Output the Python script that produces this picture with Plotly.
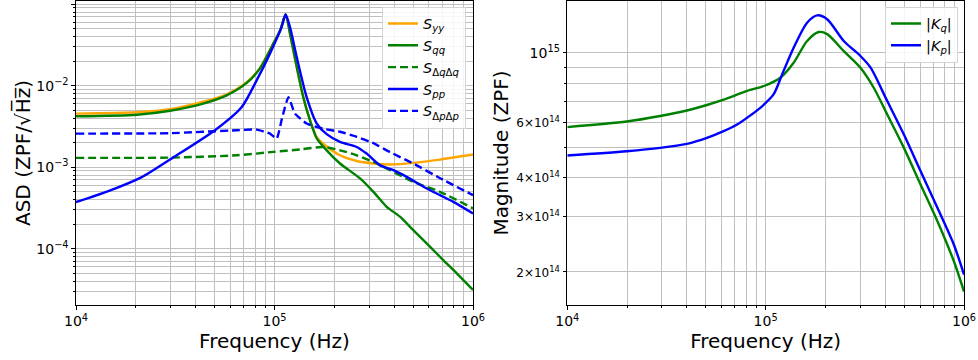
import plotly.graph_objects as go

# ---------------- data ----------------
f_yy = [1.0e4, 2.023e4, 2.979e4, 4.375e4, 5.741e4, 7.244e4, 8.453e4, 9.863e4, 1.067e5, 1.138e5,
        1.197e5, 1.294e5, 1.396e5, 1.510e5, 1.633e5, 1.795e5, 2.138e5, 2.594e5, 3.148e5, 3.819e5,
        5.000e5, 6.823e5, 1.0e6]
S_yy = [4.54e-3, 4.71e-3, 5.13e-3, 6.34e-3, 7.82e-3, 1.10e-2, 1.65e-2, 3.30e-2, 4.75e-2, 7.46e-2,
        4.33e-2, 1.69e-2, 7.24e-3, 3.76e-3, 2.33e-3, 1.86e-3, 1.40e-3, 1.19e-3, 1.11e-3, 1.08e-3,
        1.13e-3, 1.24e-3, 1.43e-3]

f_qq = [1.0e4, 2.023e4, 2.979e4, 4.375e4, 5.741e4, 7.244e4, 8.453e4, 9.863e4, 1.067e5, 1.138e5,
        1.197e5, 1.294e5, 1.396e5, 1.510e5, 1.633e5, 1.832e5, 2.138e5, 2.698e5, 3.148e5, 3.673e5,
        4.285e5, 5.000e5, 6.067e5, 7.079e5, 8.279e5, 1.0e6]
S_qq = [4.21e-3, 4.40e-3, 4.92e-3, 6.03e-3, 7.60e-3, 1.08e-2, 1.63e-2, 3.27e-2, 4.75e-2, 7.46e-2,
        4.33e-2, 1.69e-2, 7.24e-3, 3.76e-3, 2.26e-3, 1.61e-3, 1.11e-3, 7.28e-4, 4.99e-4, 3.27e-4,
        2.47e-4, 1.69e-4, 1.06e-4, 7.27e-5, 5.00e-5, 3.13e-5]

f_dqdq = [1.0e4, 2.979e4, 6.457e4, 9.863e4, 1.343e5, 1.762e5, 2.138e5, 2.594e5, 3.148e5, 3.819e5,
          5.000e5, 6.823e5, 1.0e6]
S_dqdq = [1.30e-3, 1.31e-3, 1.40e-3, 1.54e-3, 1.65e-3, 1.77e-3, 1.61e-3, 1.40e-3, 1.16e-3, 9.18e-4,
          6.61e-4, 4.99e-4, 3.13e-4]

f_pp = [1.0e4, 1.455e4, 2.143e4, 3.034e4, 5.012e4, 6.839e4, 8.128e4, 9.484e4, 1.086e5, 1.138e5,
        1.197e5, 1.294e5, 1.452e5, 1.633e5, 1.832e5, 2.138e5, 2.594e5, 2.911e5, 3.396e5, 3.972e5,
        4.634e5, 5.848e5, 6.823e5, 7.962e5, 1.0e6]
S_pp = [3.73e-4, 5.08e-4, 7.55e-4, 1.28e-3, 2.84e-3, 5.47e-3, 1.16e-2, 2.47e-2, 5.21e-2, 7.46e-2,
        5.21e-2, 2.24e-2, 7.24e-3, 3.43e-3, 2.54e-3, 2.04e-3, 1.77e-3, 1.47e-3, 1.06e-3, 9.18e-4,
        7.60e-4, 5.48e-4, 4.54e-4, 3.76e-4, 2.71e-4]

f_dpdp = [1.0e4, 2.979e4, 6.457e4, 8.128e4, 9.484e4, 1.026e5, 1.091e5, 1.175e5, 1.268e5, 1.452e5,
          1.762e5, 2.138e5, 2.594e5, 3.148e5, 3.819e5, 5.000e5, 6.823e5, 1.0e6]
S_dpdp = [2.58e-3, 2.61e-3, 2.84e-3, 2.89e-3, 2.58e-3, 2.24e-3, 3.98e-3, 7.24e-3, 4.54e-3, 3.43e-3,
          2.96e-3, 2.72e-3, 2.36e-3, 1.97e-3, 1.53e-3, 1.11e-3, 7.33e-4, 4.54e-4]

f_Kq = [1.0e4, 1.995e4, 2.938e4, 4.009e4, 5.058e4, 6.138e4, 8.054e4, 9.954e4, 1.186e5, 1.384e5,
        1.618e5, 1.854e5, 2.042e5, 2.477e5, 3.006e5, 3.508e5, 4.102e5, 4.977e5, 6.039e5, 7.345e5,
        8.892e5, 1.0e6]
K_q = [5.79e14, 6.03e14, 6.28e14, 6.54e14, 6.81e14, 7.08e14, 7.55e14, 7.86e14, 8.32e14, 9.29e14,
       1.090e15, 1.164e15, 1.146e15, 1.012e15, 8.96e14, 7.73e14, 6.35e14, 4.97e14, 3.80e14, 2.90e14,
       2.16e14, 1.73e14]

f_Kp = [1.0e4, 1.995e4, 2.938e4, 4.009e4, 5.058e4, 6.138e4, 7.178e4, 8.054e4, 9.397e4, 1.096e5,
        1.211e5, 1.384e5, 1.618e5, 1.820e5, 2.042e5, 2.477e5, 3.006e5, 3.381e5, 4.102e5, 4.977e5,
        6.039e5, 7.345e5, 8.892e5, 1.0e6]
K_p = [4.70e14, 4.85e14, 4.97e14, 5.12e14, 5.35e14, 5.62e14, 5.90e14, 6.20e14, 6.67e14, 7.36e14,
       8.53e14, 1.037e15, 1.247e15, 1.316e15, 1.279e15, 1.090e15, 9.76e14, 8.96e14, 7.01e14, 5.48e14,
       4.19e14, 3.20e14, 2.44e14, 1.96e14]

x_major = [1e4, 1e5, 1e6]
x_major_text = ["10<sup>4</sup>", "10<sup>5</sup>", "10<sup>6</sup>"]
x_minor = [m * d for d in (1e4, 1e5) for m in range(2, 10)]

yl_major = [1e-4, 1e-3, 1e-2, 1e-1]
yl_major_text = ["10<sup>−4</sup>", "10<sup>−3</sup>", "10<sup>−2</sup>", "10<sup>−1</sup>"]
yl_minor = [m * d for d in (1e-5, 1e-4, 1e-3, 1e-2) for m in range(2, 10)]

yr_ticks = [2e14, 3e14, 4e14, 6e14, 1e15]
yr_ticks_text = ["<span style='font-size:12px'>2×10<sup>14</sup></span>",
                 "<span style='font-size:12px'>3×10<sup>14</sup></span>",
                 "<span style='font-size:12px'>4×10<sup>14</sup></span>",
                 "<span style='font-size:12px'>6×10<sup>14</sup></span>",
                 "10<sup>15</sup>"]
yr_minor = [5e14, 7e14, 8e14, 9e14]

# ---------------- figure ----------------
FONT = "DejaVu Sans"
W = 2.4
DASH = "8px,4px"
SM = 0.7

fig = go.Figure()
common = dict(mode="lines")
fig.add_trace(go.Scatter(x=f_yy, y=S_yy, name="<i>S</i><sub><i>yy</i></sub>",
                         line=dict(color="orange", width=W, shape="spline", smoothing=SM),
                         xaxis="x", yaxis="y", legend="legend", **common))
fig.add_trace(go.Scatter(x=f_qq, y=S_qq, name="<i>S</i><sub><i>qq</i></sub>",
                         line=dict(color="green", width=W, shape="spline", smoothing=SM),
                         xaxis="x", yaxis="y", legend="legend", **common))
fig.add_trace(go.Scatter(x=f_dqdq, y=S_dqdq, name="<i>S</i><sub>Δ<i>q</i>Δ<i>q</i></sub>",
                         line=dict(color="green", width=W, dash=DASH, shape="spline", smoothing=SM),
                         xaxis="x", yaxis="y", legend="legend", **common))
fig.add_trace(go.Scatter(x=f_pp, y=S_pp, name="<i>S</i><sub><i>pp</i></sub>",
                         line=dict(color="blue", width=W, shape="spline", smoothing=SM),
                         xaxis="x", yaxis="y", legend="legend", **common))
fig.add_trace(go.Scatter(x=f_dpdp, y=S_dpdp, name="<i>S</i><sub>Δ<i>p</i>Δ<i>p</i></sub>",
                         line=dict(color="blue", width=W, dash=DASH, shape="spline", smoothing=0.4),
                         xaxis="x", yaxis="y", legend="legend", **common))

fig.add_trace(go.Scatter(x=f_Kq, y=K_q, name="|<i>K</i><sub><i>q</i></sub>|",
                         line=dict(color="green", width=W, shape="spline", smoothing=0.8),
                         xaxis="x2", yaxis="y2", legend="legend2", **common))
fig.add_trace(go.Scatter(x=f_Kp, y=K_p, name="|<i>K</i><sub><i>p</i></sub>|",
                         line=dict(color="blue", width=W, shape="spline", smoothing=0.8),
                         xaxis="x2", yaxis="y2", legend="legend2", **common))

GRID = "#c0c0c0"
axis_base = dict(type="log", showline=True, linecolor="black", linewidth=1.2, mirror=True,
                 ticks="outside", ticklen=3.5, tickwidth=1, tickcolor="black",
                 showgrid=True, gridcolor=GRID, gridwidth=1, zeroline=False, automargin=False,
                 tickfont=dict(family=FONT, size=14, color="black"),
                 title_font=dict(family=FONT, size=20, color="black"))

minor_base = dict(tickmode="array", ticks="outside", ticklen=2, tickcolor="black",
                  showgrid=True, gridcolor=GRID, gridwidth=1)

xl = dict(axis_base, domain=[76 / 978, 473 / 978], range=[4, 6], anchor="y",
          tickmode="array", tickvals=x_major, ticktext=x_major_text,
          minor=dict(minor_base, tickvals=x_minor),
          title=dict(text="Frequency (Hz)", standoff=0))
xr = dict(axis_base, domain=[567.3 / 978, 964 / 978], range=[4, 6], anchor="y2",
          tickmode="array", tickvals=x_major, ticktext=x_major_text,
          minor=dict(minor_base, tickvals=x_minor),
          title=dict(text="Frequency (Hz)", standoff=0))
yl = dict(axis_base, domain=[55 / 360, 359 / 360], range=[-4.69, -0.962], anchor="x",
          tickmode="array", tickvals=yl_major, ticktext=yl_major_text,
          minor=dict(minor_base, tickvals=yl_minor),
          title=dict(text="ASD (ZPF/√H̅z̅)", standoff=0))
yr = dict(axis_base, domain=[55 / 360, 359 / 360], range=[14.195, 15.165], anchor="x2",
          tickmode="array", tickvals=yr_ticks, ticktext=yr_ticks_text,
          minor=dict(minor_base, tickvals=yr_minor),
          title=dict(text="Magnitude (ZPF)", standoff=2))

leg_base = dict(bgcolor="rgba(255,255,255,0.85)", bordercolor="#d5d5d5", borderwidth=1,
                font=dict(family=FONT, size=14.5, color="black"), xanchor="right", yanchor="top",
                tracegroupgap=0, itemwidth=30)

fig.update_layout(
    width=978, height=360,
    margin=dict(l=0, r=0, t=0, b=0),
    paper_bgcolor="white", plot_bgcolor="white",
    font=dict(family=FONT, color="black"),
    xaxis=xl, yaxis=yl, xaxis2=xr, yaxis2=yr,
    legend=dict(leg_base, x=466 / 978, y=1 - 6.5 / 360),
    legend2=dict(leg_base, x=958 / 978, y=1 - 6.5 / 360),
    showlegend=True,
)

fig.write_html("out.html")
